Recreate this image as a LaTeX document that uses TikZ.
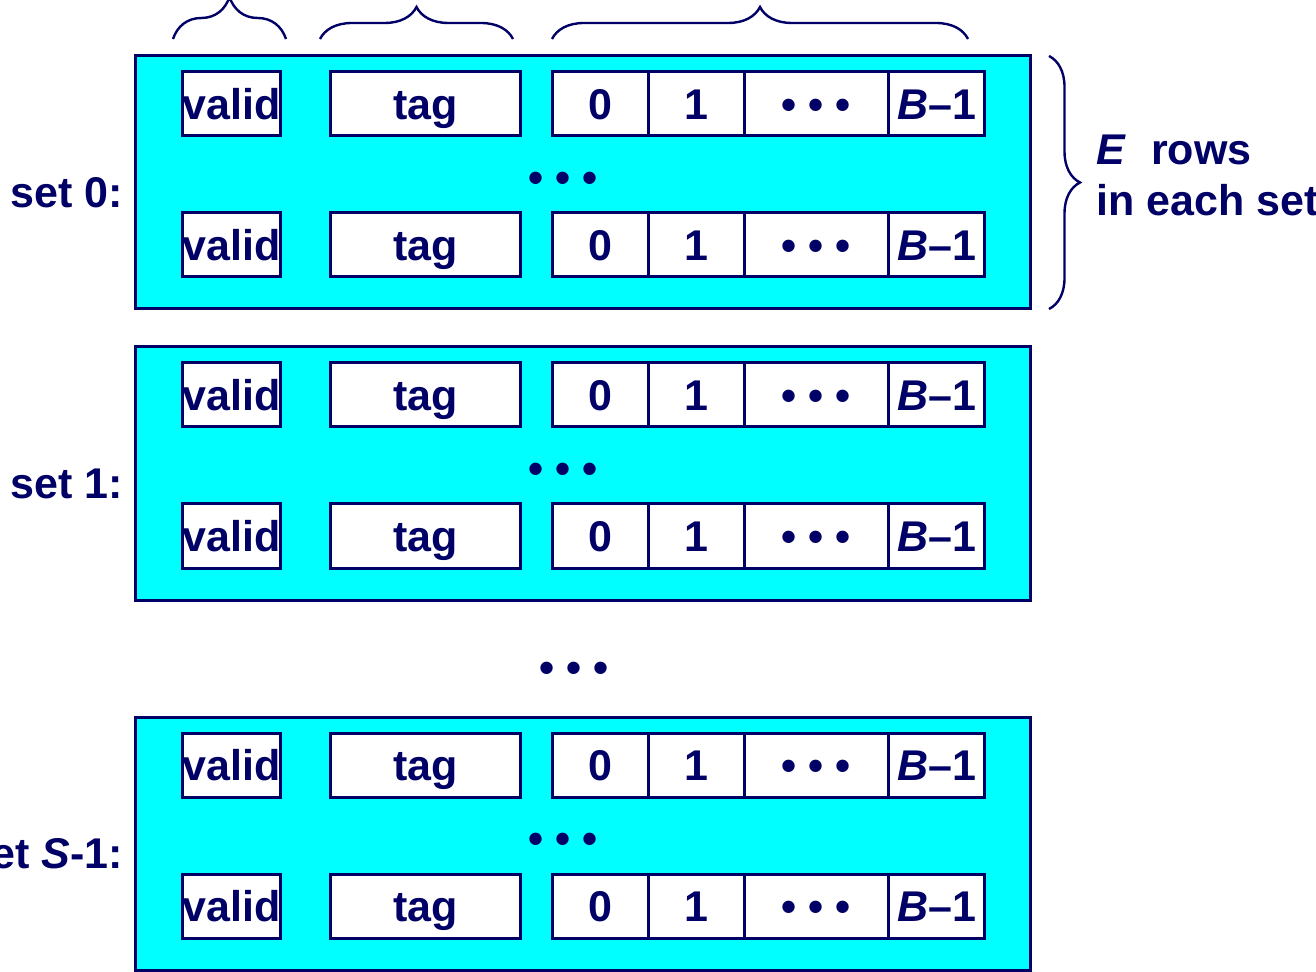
\documentclass[tikz,border=0pt]{standalone}
\usepackage{fontspec}
\setmainfont{Liberation Sans}
\usetikzlibrary{positioning,decorations.pathreplacing}
\definecolor{navy}{RGB}{0,0,102}
\definecolor{cachecyan}{RGB}{0,255,255}
\def \bigfont{\fontsize{21.5}{25.5}\selectfont\bfseries}

\tikzset{
  setbox/.style={draw=navy, line width=1.5pt, fill=cachecyan, inner sep=0pt, outer sep=0pt,
    minimum width=447.5pt, minimum height=126.5pt},
  cell/.style={draw=navy, line width=1.5pt, fill=white, inner sep=0pt, outer sep=0pt,
    minimum height=32pt, font=\bigfont, text=navy, text height=15.4pt, text depth=0pt},
  lbl/.style={inner sep=0pt, font=\bigfont, text=navy},
  setname/.style={lbl, text height=15.4pt, text depth=0pt},
  curly/.style={draw=navy, line width=1.2pt, decorate, decoration={brace, amplitude=#1}}
}

\begin{document}
\begin{tikzpicture}[x=0.5pt, y=-0.5pt]
\useasboundingbox (0,0) rectangle (1316,972);
% field braces on top
\draw[curly=21pt] (173,39) -- (286,39);
\draw[curly=16pt] (320,39) -- (513,39);
\draw[curly=16pt] (552,39) -- (968,39);
% the sets
\foreach \s/\y/\lab in {0/56/{set 0:}, 1/347/{set 1:}, 2/717/{set \textit{S}-1:}} {
  \node[setbox, anchor=north west] (set\s) at (135,\y) {};
  \node[setname, left=6pt of set\s, yshift=-5pt] (name\s) {\lab};
  \foreach \r/\dy in {0/48, 1/189} {
    \node[cell, minimum width=47.5pt] (v\s\r) at (231.5,\y+\dy) {valid};
    \node[cell, minimum width=95pt, right=25pt of v\s\r] (t\s\r) {tag};
    \node[cell, minimum width=48pt, right=16pt of t\s\r] (a\s\r) {0};
    \node[cell, minimum width=48pt, right=0pt of a\s\r] (b\s\r) {1};
    \node[cell, minimum width=72pt, right=0pt of b\s\r] (c\s\r) {• • •};
    \node[cell, minimum width=48pt, right=0pt of c\s\r] (d\s\r) {\textit{B}–1};
  }
  \node[lbl] (rowdots\s) at (563,\y+126) {• • •};
}
\node[lbl] (setdots) at (574,672) {• • •};
% rows per set
\draw[curly=15.5pt] (1049,56) -- (1049,309);
\node[lbl, anchor=west, align=left] (erows) at (1096,175) {\textit{E}\hspace{.3em} rows\\in each set};
\end{tikzpicture}
\end{document}
